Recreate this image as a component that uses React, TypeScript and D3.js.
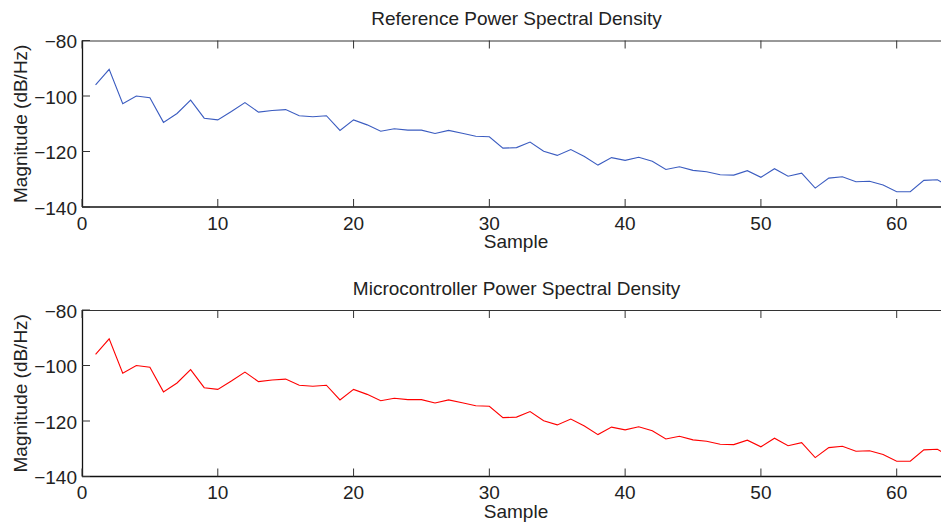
import React from "react";
import * as d3 from "d3";

const samples = [
  1, 2, 3, 4, 5, 6, 7, 8, 9, 10, 11, 12, 13, 14, 15, 16, 17, 18, 19, 20, 21, 22,
  23, 24, 25, 26, 27, 28, 29, 30, 31, 32, 33, 34, 35, 36, 37, 38, 39, 40, 41, 42,
  43, 44, 45, 46, 47, 48, 49, 50, 51, 52, 53, 54, 55, 56, 57, 58, 59, 60, 61, 62,
  63, 64,
];

const referencePsd = [
  -96.0, -90.4, -102.8, -100.0, -100.6, -109.5, -106.3, -101.5, -108.0, -108.6,
  -105.6, -102.4, -105.8, -105.2, -104.9, -107.1, -107.5, -107.1, -112.4, -108.6,
  -110.4, -112.7, -111.8, -112.3, -112.3, -113.5, -112.4, -113.4, -114.5, -114.7,
  -118.8, -118.6, -116.6, -119.9, -121.4, -119.3, -121.8, -124.9, -122.2, -123.2,
  -122.1, -123.5, -126.5, -125.5, -126.8, -127.3, -128.4, -128.5, -126.9, -129.3,
  -126.2, -128.9, -127.8, -133.2, -129.6, -129.1, -130.9, -130.7, -132.1, -134.5,
  -134.5, -130.4, -130.2, -133.0,
];

const microcontrollerPsd = [
  -96.0, -90.4, -102.8, -100.0, -100.6, -109.5, -106.3, -101.5, -108.0, -108.6,
  -105.6, -102.4, -105.8, -105.2, -104.9, -107.1, -107.5, -107.1, -112.4, -108.6,
  -110.4, -112.7, -111.8, -112.3, -112.3, -113.5, -112.4, -113.4, -114.5, -114.7,
  -118.8, -118.6, -116.6, -119.9, -121.4, -119.3, -121.8, -124.9, -122.2, -123.2,
  -122.1, -123.5, -126.5, -125.5, -126.8, -127.3, -128.4, -128.5, -126.9, -129.3,
  -126.2, -128.9, -127.8, -133.2, -129.6, -129.1, -130.9, -130.7, -132.1, -134.5,
  -134.5, -130.4, -130.2, -133.0,
];

const xTicks = [0, 10, 20, 30, 40, 50, 60];
const yTicks = [-80, -100, -120, -140];
const xDomain = [0, 64];
const yDomain = [-140, -80];

const titles = ["Reference Power Spectral Density", "Microcontroller Power Spectral Density"];
const xLabel = "Sample";
const yLabel = "Magnitude (dB/Hz)";

const W = 941;
const H = 523;
const FONT = "'Liberation Sans', Arial, Helvetica, sans-serif";
const FS = 19;

type PanelProps = {
  top: number;
  values: number[];
  color: string;
  title: string;
  id: string;
};

function Panel({ top, values, color, title, id }: PanelProps) {
  const left = 82;
  const right = 951;
  const height = 166.5;
  const x = d3.scaleLinear().domain(xDomain).range([left, right]);
  const y = d3.scaleLinear().domain(yDomain).range([top + height, top]);
  const line = d3
    .line<number>()
    .x((_, i) => x(samples[i]))
    .y((d) => y(d));
  const tickLen = 8;
  const bottom = top + height;
  return (
    <g>
      <defs>
        <clipPath id={id}>
          <rect x={left} y={top} width={right - left} height={height} />
        </clipPath>
      </defs>
      <text
        x={(left + right) / 2}
        y={top - 15.5}
        textAnchor="middle"
        fontSize={FS}
        fontFamily={FONT}
        fill="#222"
      >
        {title}
      </text>
      <path
        d={line(values) || ""}
        fill="none"
        stroke={color}
        strokeWidth={1.1}
        clipPath={`url(#${id})`}
      />
      <line x1={left} x2={right} y1={top + 0.5} y2={top + 0.5} stroke="#333" strokeWidth={1} />
      <line x1={left} x2={right} y1={bottom} y2={bottom} stroke="#111" strokeWidth={1.4} />
      <line x1={left + 0.5} x2={left + 0.5} y1={top} y2={bottom} stroke="#111" strokeWidth={1.3} />
      <line x1={right} x2={right} y1={top} y2={bottom} stroke="#333" strokeWidth={1} />
      {xTicks.map((t) => (
        <g key={"x" + t}>
          <line x1={x(t)} x2={x(t)} y1={bottom} y2={bottom - tickLen} stroke="#333" strokeWidth={1} />
          <line x1={x(t)} x2={x(t)} y1={top} y2={top + tickLen} stroke="#333" strokeWidth={1} />
          <text
            x={x(t)}
            y={bottom + 22.5}
            textAnchor="middle"
            fontSize={FS}
            fontFamily={FONT}
            fill="#222"
          >
            {t}
          </text>
        </g>
      ))}
      {yTicks.map((t) => (
        <g key={"y" + t}>
          <line x1={left} x2={left + tickLen} y1={y(t)} y2={y(t)} stroke="#333" strokeWidth={1} />
          <line x1={right} x2={right - tickLen} y1={y(t)} y2={y(t)} stroke="#333" strokeWidth={1} />
          <text
            x={left - 5}
            y={y(t) + 7.5}
            textAnchor="end"
            fontSize={FS}
            fontFamily={FONT}
            fill="#222"
          >
            {"\u2212" + Math.abs(t)}
          </text>
        </g>
      ))}
      <text
        x={516}
        y={bottom + 41}
        textAnchor="middle"
        fontSize={FS}
        fontFamily={FONT}
        fill="#222"
      >
        {xLabel}
      </text>
      <text
        transform={`translate(27, ${top + height / 2}) rotate(-90)`}
        textAnchor="middle"
        fontSize={FS}
        fontFamily={FONT}
        fill="#222"
      >
        {yLabel}
      </text>
    </g>
  );
}

export default function App() {
  return (
    <svg
      width={W}
      height={H}
      viewBox={`0 0 ${W} ${H}`}
      style={{ position: "absolute", left: 0, top: 0, background: "#fff" }}
    >
      <rect x={0} y={0} width={W} height={H} fill="#fff" />
      <Panel top={40.5} values={referencePsd} color="#3b5cc0" title={titles[0]} id="clipA" />
      <Panel top={310} values={microcontrollerPsd} color="#ff0000" title={titles[1]} id="clipB" />
    </svg>
  );
}
